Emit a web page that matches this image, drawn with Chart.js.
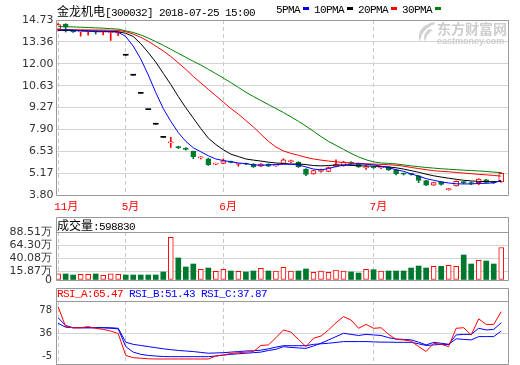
<!DOCTYPE html>
<html>
<head>
<meta charset="utf-8">
<script src="https://cdn.jsdelivr.net/npm/chart.js@4.4.1/dist/chart.umd.min.js"></script>
<style>
  body { margin: 0; background: #fff; width: 520px; height: 365px; overflow: hidden; position: relative; }
  canvas { position: absolute; left: 0; }
  .t { position: absolute; white-space: nowrap; font-size: 11px; line-height: 13px; color: #000;
       font-family: 'Liberation Mono', 'Noto Sans CJK SC', monospace; letter-spacing: -0.6px; }
  .cjk { font-family: 'Noto Sans CJK SC', sans-serif; font-size: 12px; letter-spacing: 0; }
  .sw { display: inline-block; width: 6px; height: 3px; margin: 0 5px 0 3px; vertical-align: 3px; }
  .wm { position: absolute; color: #cdcdcd; font-weight: bold; white-space: nowrap; }
</style>
</head>
<body>
<canvas id="main" width="520" height="216" style="top:0"></canvas>
<canvas id="vol" width="520" height="71" style="top:216px"></canvas>
<canvas id="rsi" width="520" height="78" style="top:287px"></canvas>

<div class="t" style="left:57px;top:4px"><span class="cjk">金龙机电</span>[300032] 2018-07-25 15:00</div>
<div class="t" style="left:276px;top:4px">5PMA<span class="sw" style="background:#0000ff"></span>10PMA<span class="sw" style="background:#000"></span>20PMA<span class="sw" style="background:#ff0000"></span>30PMA<span class="sw" style="background:#008000"></span></div>
<svg style="position:absolute;left:413px;top:21px" width="24" height="22">
  <path d="M21 1 C11 3 3 10 7 21 C8 13 12 7 22 3 Z" fill="#d2d2d2"/>
  <path d="M16 8 C11 12 10 16 12 21 C13 16 15 12 20 9 Z" fill="#d2d2d2"/>
</svg>
<div class="wm" style="left:437px;top:19px;font-family:'Noto Sans CJK SC';font-size:14px;line-height:18px">东方财富网</div>
<div class="wm" style="left:437px;top:36px;font-family:'Liberation Sans';font-size:9px;line-height:10px">eastmoney.com</div>
<div class="t" style="left:57px;top:218px"><span class="cjk">成交量</span>:598830</div>
<div class="t" style="left:57px;top:288px"><span style="color:#ff0000">RSI_A:65.47</span> <span style="color:#0000ff">RSI_B:51.43</span> <span style="color:#0000ff">RSI_C:37.87</span></div>

<script>
// ---- data ----
const monthTicks = [0, 9, 22, 42];
const monthLabels = ['11月', '5月', '6月', '7月'];
const priceTicks = [3.80, 5.17, 6.53, 7.90, 9.27, 10.63, 12.00, 13.36, 14.73];
const volTicks = [0, 15.87, 40.08, 64.30, 88.51];
const rsiTicks = [-5, 36, 78];

const open  = [14.15,14.48,14.03,13.99,13.99,14.01,13.99,13.96,13.90,12.53, 11.28,10.15,9.13,8.22,7.40,7.05,6.80,6.73,6.52,6.12,
               6.06,5.73,5.77,5.88,5.72,5.76,5.73,5.60,5.72,5.62, 5.77,5.88,5.86,5.42,5.12,5.28,5.27,5.58,5.64,5.82,
               5.78,5.50,5.55,5.50,5.55,5.35,5.14,5.12,5.00,4.70, 4.42,4.62,4.14,4.37,4.60,4.56,4.57,4.74,4.60,4.62];
const high  = [14.50,14.50,14.06,14.02,14.02,14.03,14.02,14.02,13.98,12.53, 11.28,10.15,9.13,8.22,7.40,7.40,6.85,6.76,6.55,6.20,
               6.10,5.80,6.06,5.92,5.78,5.79,5.76,5.76,5.75,5.70, 6.06,5.98,5.88,5.45,5.35,5.42,5.55,6.00,5.90,5.88,
               5.80,5.65,5.60,5.58,5.58,5.38,5.18,5.16,5.02,4.72, 4.60,4.64,4.22,4.68,4.65,4.62,4.82,4.78,4.64,5.18];
const low   = [14.05,13.98,13.95,13.72,13.78,13.85,13.80,13.45,13.75,12.53, 11.28,10.15,9.13,8.22,7.40,6.77,6.70,6.60,6.06,6.05,
               5.64,5.70,5.75,5.80,5.60,5.70,5.52,5.58,5.58,5.58, 5.75,5.82,5.52,5.00,5.10,5.22,5.25,5.56,5.60,5.72,
               5.52,5.40,5.46,5.45,5.33,5.05,5.05,5.04,4.57,4.38, 4.40,4.42,4.10,4.35,4.50,4.45,4.45,4.55,4.52,4.60];
const close = [14.45,14.28,13.99,14.01,14.01,13.99,14.01,14.00,13.92,12.53, 11.28,10.15,9.13,8.22,7.40,7.12,6.76,6.65,6.20,6.16,
               5.70,5.76,5.93,5.84,5.75,5.72,5.56,5.73,5.60,5.66, 6.00,5.92,5.55,5.08,5.32,5.33,5.52,5.72,5.85,5.78,
               5.56,5.54,5.50,5.53,5.36,5.14,5.10,5.09,4.71,4.42, 4.57,4.46,4.18,4.66,4.57,4.52,4.79,4.58,4.57,5.16];

const ma5  = [14.10,14.12,14.10,14.06,14.03,14.00,14.00,14.00,13.97,13.70, 13.10,12.30,11.30,10.20,9.20,8.40,7.70,7.15,6.75,6.50,
              6.25,6.05,5.95,5.88,5.80,5.76,5.68,5.66,5.68,5.70, 5.72,5.72,5.68,5.55,5.42,5.37,5.45,5.58,5.66,5.72,
              5.75,5.72,5.68,5.60,5.50,5.38,5.28,5.12,4.98,4.82, 4.72,4.62,4.55,4.50,4.49,4.49,4.52,4.53,4.56,4.72];
const ma10 = [14.08,14.08,14.07,14.06,14.05,14.04,14.03,14.02,14.00,13.90, 13.70,13.25,12.70,12.10,11.40,10.70,9.95,9.25,8.60,7.95,
              7.35,6.95,6.62,6.35,6.20,6.05,5.98,5.92,5.85,5.80, 5.77,5.73,5.74,5.70,5.64,5.62,5.64,5.67,5.67,5.65,
              5.63,5.61,5.60,5.58,5.55,5.50,5.42,5.32,5.22,5.10, 5.00,4.92,4.85,4.78,4.72,4.68,4.65,4.64,4.63,4.65];
const ma20 = [14.13,14.13,14.12,14.12,14.11,14.11,14.10,14.09,14.08,14.00, 13.85,13.65,13.40,13.10,12.80,12.45,12.05,11.65,11.20,10.80,
              10.40,10.00,9.60,9.20,8.85,8.45,8.05,7.60,7.15,6.80, 6.55,6.40,6.28,6.15,6.05,5.98,5.92,5.87,5.83,5.80,
              5.77,5.75,5.73,5.71,5.69,5.66,5.60,5.52,5.45,5.38, 5.32,5.28,5.25,5.21,5.17,5.13,5.09,5.06,5.02,4.98];
const ma30 = [14.32,14.31,14.30,14.28,14.26,14.24,14.22,14.19,14.16,14.05, 13.95,13.80,13.60,13.38,13.15,12.90,12.65,12.40,12.15,11.92,
              11.65,11.38,11.10,10.82,10.52,10.22,9.95,9.70,9.45,9.20, 8.95,8.68,8.40,8.10,7.78,7.45,7.15,6.90,6.65,6.40,
              6.18,6.00,5.87,5.80,5.77,5.74,5.68,5.62,5.57,5.52, 5.48,5.44,5.41,5.38,5.35,5.33,5.30,5.27,5.23,5.20];

// volume, unit 万
const volume = [11.6,11.1,9.2,10.5,10.5,11.1,8.7,11.6,10.5,9.2, 9.2,9.2,9.2,9.2,14.8,78.7,40.6,24.0,29.5,19.7,
                22.1,16.0,19.7,16.6,16.0,14.8,16.6,21.6,16.6,16.6, 23.4,16.6,16.6,20.3,14.2,16.6,14.2,18.4,16.6,14.8,
                12.9,19.7,19.0,16.6,16.6,16.6,16.6,22.1,25.8,22.1, 25.3,25.3,27.1,25.3,46.1,29.5,36.3,35.0,29.5,59.88];

const rsiA = [84,48,46,46,48,45,43,40,35.5,-4, -8,-9,-10,-10.4,-10.4,-10.4,-10.4,-10.4,-10.4,-10.4,
              -10.4,-5,-3,-0.5,1,2,3,14,15,28, 42,38,25,12,27,31,42,55,66,60,
              45,52,45,46,34,25,24,22,12,3, 18,16,12,45,46,33,62,52,52,75];
const rsiB = [54,47,46,46,46,46,46,45,44,12, 2,-2,-4,-5,-6,-6.2,-6.2,-6.2,-6.2,-6.2,
              -6.2,-5,-3.5,-2,-1,0,1,2,5,7, 11.8,10.5,9.5,8.8,13,18,24,30,36,34,
              32,34,33,32,28,25.7,25,24,20,15, 19.7,18,16,33,34,34,45,42,43,55];
const rsiC = [64,50,46,46,46,46,46,46,45,20, 16,14,12,10,8,6.5,5,4,3,1.5,
              0,0.5,1,2,3,4,4.5,5.5,8,11, 13.6,13.6,13.6,13.6,16,17,18,19.5,21,21,
              21,21,20.5,20,20,19.7,19.7,19.7,17,14, 15,16,16,26,25,24,30,30,30,40];

// ---- styling ----
const RED = '#ff0000', GREEN = '#00792f', BLUE = '#0000ff', BLACK = '#000000';
Chart.defaults.font.family = "'DejaVu Sans', sans-serif";
Chart.defaults.color = '#333';

const idx = close.map((_, i) => i);
const pts = arr => arr.map((v, i) => ({ x: i, y: v }));
const candleColor = idx.map(i => high[i] === low[i] ? BLACK : (close[i] > open[i] ? RED : GREEN));
const isUp = idx.map(i => close[i] > open[i]);

const zeroPad = s => { s.paddingLeft = s.paddingRight = s.paddingTop = s.paddingBottom = 0; };

const xScale = showLabels => ({
  type: 'linear', min: -0.15, max: 59.9, offset: false,
  afterBuildTicks: s => { s.ticks = monthTicks.map(v => ({ value: v })); },
  afterFit: s => { s.height = showLabels ? 21 : 0; zeroPad(s); },
  grid: { color: '#c8c8c8', drawTicks: false, offset: false },
  border: { display: false, dash: [4, 3] },
  ticks: {
    display: showLabels, autoSkip: false, maxRotation: 0, align: 'start', labelOffset: -4, padding: 5,
    color: RED, font: { family: "'Liberation Mono', 'Noto Sans CJK SC'", size: 11 },
    callback: (v, i) => monthLabels[i]
  }
});

const yScale = (min, max, ticks, fmt, pad, size, gridColor) => ({
  min, max,
  afterBuildTicks: s => { s.ticks = ticks.map(v => ({ value: v })); },
  afterFit: s => { s.width = 57; zeroPad(s); },
  grid: { color: gridColor, drawTicks: false },
  border: { display: false },
  ticks: { autoSkip: false, padding: pad, color: '#333', font: { size }, callback: fmt }
});

// frame round the plot area, plus the header box of the lower panels
const frame = {
  id: 'frame',
  afterDraw(chart, args, opts) {
    const { ctx, chartArea: a } = chart;
    const l = a.left - 0.5, r = a.right + 0.5, t = a.top + 0.5, b = a.bottom + 0.5;
    ctx.save();
    ctx.strokeStyle = '#999';
    ctx.lineWidth = 1;
    ctx.beginPath();
    const top = opts.head !== undefined ? opts.head + 0.5 : t;
    ctx.rect(l, top, r - l, b - top);
    ctx.moveTo(l, t); ctx.lineTo(r, t);
    ctx.stroke();
    ctx.restore();
  }
};

const common = {
  responsive: false, animation: false,
  plugins: { legend: { display: false }, tooltip: { enabled: false } }
};

const maLine = (label, arr, color) => ({
  type: 'line', label, data: pts(arr), borderColor: color, borderWidth: 1, pointRadius: 0, tension: 0
});

// ---- main K line panel ----
new Chart(document.getElementById('main'), {
  type: 'bar',
  data: {
    datasets: [
      maLine('5PMA', ma5, BLUE),
      maLine('10PMA', ma10, BLACK),
      maLine('20PMA', ma20, RED),
      maLine('30PMA', ma30, '#008000'),
      {
        label: 'body',
        data: idx.map(i => ({ x: i, y: [Math.min(open[i], close[i]), Math.max(open[i], close[i])] })),
        backgroundColor: candleColor.map(c => c === RED ? '#ffffff' : c),
        borderColor: candleColor,
        borderWidth: idx.map(i => high[i] === low[i] ? 0 : 1),
        borderSkipped: false, barThickness: 5, minBarLength: 1, grouped: false
      },
      {
        label: 'wick',
        data: idx.map(i => ({ x: i, y: [low[i], high[i]] })),
        backgroundColor: candleColor, borderWidth: 0,
        barThickness: 1, grouped: false
      }
    ]
  },
  options: {
    ...common,
    layout: { padding: { top: 20, right: 12, left: 0, bottom: 0 } },
    scales: {
      x: xScale(true),
      y: yScale(3.80, 14.73, priceTicks, v => v.toFixed(2), 3.5, 11, '#d4d4d4')
    },
    plugins: { ...common.plugins, frame: {} }
  },
  plugins: [frame]
});

// ---- volume panel ----
new Chart(document.getElementById('vol'), {
  type: 'bar',
  data: {
    datasets: [{
      label: '成交量',
      data: pts(volume),
      backgroundColor: isUp.map(u => u ? '#ffffff' : GREEN),
      borderColor: isUp.map(u => u ? RED : GREEN),
      borderWidth: isUp.map(u => u ? 1 : 0),
      borderSkipped: false, barThickness: 5, grouped: false
    }]
  },
  options: {
    ...common,
    layout: { padding: { top: 16, right: 12, left: 0, bottom: 7 } },
    scales: {
      x: xScale(false),
      y: yScale(0, 88.51, volTicks, v => v === 0 ? '0' : v.toFixed(2) + '万', 5, 11, '#d4d4d4')
    },
    plugins: { ...common.plugins, frame: { head: 1 } }
  },
  plugins: [frame]
});

// ---- RSI panel ----
new Chart(document.getElementById('rsi'), {
  type: 'line',
  data: {
    datasets: [
      maLine('RSI_A', rsiA, RED),
      maLine('RSI_B', rsiB, BLUE),
      maLine('RSI_C', rsiC, BLUE)
    ]
  },
  options: {
    ...common,
    layout: { padding: { top: 14, right: 12, left: 0, bottom: 1 } },
    scales: {
      x: xScale(false),
      y: yScale(-19.43, 94.24, rsiTicks, v => String(v), 5, 10,
        c => c.tick && c.tick.value === 36 ? '#d4d4d4' : 'rgba(0,0,0,0)')
    },
    plugins: { ...common.plugins, frame: { head: 1 } }
  },
  plugins: [frame]
});
</script>
</body>
</html>
